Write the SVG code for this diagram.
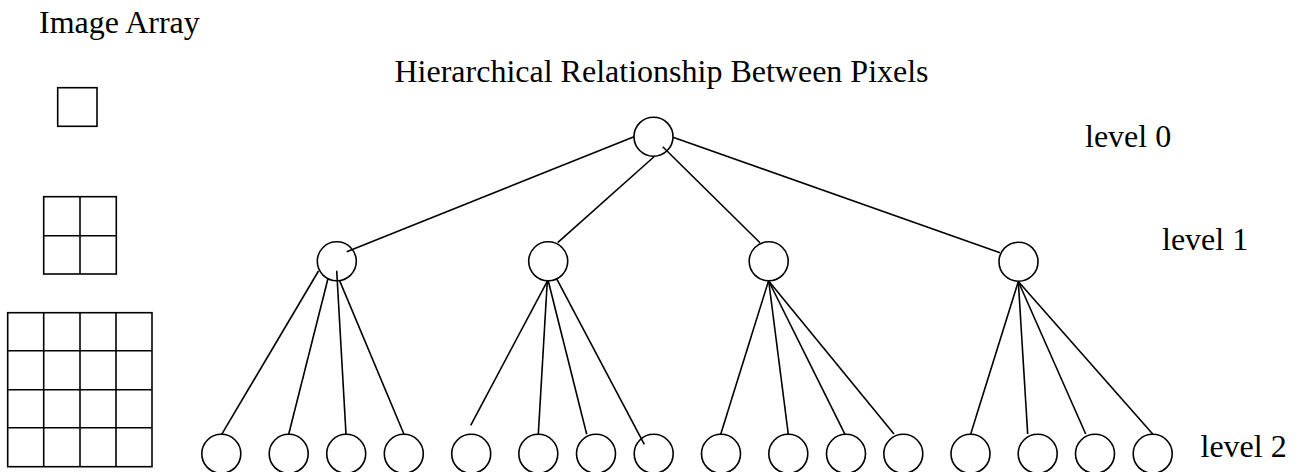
<svg xmlns="http://www.w3.org/2000/svg" width="1303" height="472" viewBox="0 0 1303 472">
<style>
  .t { font-family: "Liberation Serif", "Times New Roman", serif; font-size: 32px; fill: #000; }
  .g { fill: none; stroke: #000; stroke-width: 1.6; }
  .n { fill: none; stroke: #000; stroke-width: 1.6; }
  .c line { stroke: #000; stroke-width: 1.6; stroke-linecap: butt; }
</style>
<rect width="1303" height="472" fill="#fff"/>

<g id="labels">
  <text class="t" x="39" y="33.3">Image Array</text>
  <text class="t" x="394.5" y="81.5">Hierarchical Relationship Between Pixels</text>
  <text class="t" x="1085" y="146.7">level 0</text>
  <text class="t" x="1162" y="250">level 1</text>
  <text class="t" x="1200.5" y="456.7">level 2</text>
</g>

<g id="image-array">
  <g id="array-1x1">
    <rect class="g" x="57.7" y="87.7" width="39.3" height="38.6"/>
  </g>
  <g id="array-2x2">
    <rect class="g" x="43.7" y="196.7" width="72.6" height="77.3"/>
    <line class="g" x1="80" y1="196.7" x2="80" y2="274"/>
    <line class="g" x1="43.7" y1="235.7" x2="116.3" y2="235.7"/>
  </g>
  <g id="array-4x4">
    <rect class="g" x="7.7" y="312.7" width="144.3" height="154"/>
    <line class="g" x1="43.7" y1="312.7" x2="43.7" y2="466.7"/>
    <line class="g" x1="80" y1="312.7" x2="80" y2="466.7"/>
    <line class="g" x1="116" y1="312.7" x2="116" y2="466.7"/>
    <line class="g" x1="7.7" y1="350.7" x2="152" y2="350.7"/>
    <line class="g" x1="7.7" y1="389.7" x2="152" y2="389.7"/>
    <line class="g" x1="7.7" y1="427.7" x2="152" y2="427.7"/>
  </g>
</g>

<g id="connectors" class="c">
  <line x1="634" y1="136.7" x2="346.7" y2="251.7"/>
  <line x1="654.3" y1="156.5" x2="557.7" y2="242.7"/>
  <line x1="662.7" y1="146.7" x2="760" y2="242.7"/>
  <line x1="673" y1="137.3" x2="1000" y2="252.7"/>

  <line x1="318.5" y1="271" x2="221.7" y2="434.3"/>
  <line x1="328" y1="278.5" x2="288.7" y2="434.3"/>
  <line x1="336.7" y1="270.7" x2="346" y2="434.3"/>
  <line x1="339.6" y1="280.6" x2="404" y2="434.3"/>

  <line x1="547.5" y1="280.8" x2="470.7" y2="425.3"/>
  <line x1="547.3" y1="280.8" x2="538.3" y2="434.3"/>
  <line x1="548.2" y1="280.8" x2="586.7" y2="434.3"/>
  <line x1="556.7" y1="278.8" x2="644.3" y2="444.3"/>

  <line x1="768.5" y1="281" x2="720.7" y2="434.3"/>
  <line x1="768.7" y1="281" x2="788.3" y2="434.3"/>
  <line x1="768.7" y1="281" x2="845" y2="434.3"/>
  <line x1="768.7" y1="281" x2="894" y2="434"/>

  <line x1="1018.3" y1="281.5" x2="970.7" y2="434"/>
  <line x1="1018.3" y1="281.5" x2="1027.7" y2="434"/>
  <line x1="1018.3" y1="281.5" x2="1085.7" y2="434"/>
  <line x1="1018.3" y1="281.5" x2="1152.7" y2="434"/>
</g>

<g id="root"><circle class="n" cx="653.5" cy="136.7" r="19.5"/></g>

<g id="l1-1"><circle class="n" cx="336.8" cy="261.3" r="19.5"/></g>
<g id="l1-2"><circle class="n" cx="548.2" cy="261.3" r="19.5"/></g>
<g id="l1-3"><circle class="n" cx="768.7" cy="261.3" r="19.5"/></g>
<g id="l1-4"><circle class="n" cx="1018.5" cy="261.7" r="19.5"/></g>

<g id="l2-1"><circle class="n" cx="221.3" cy="453.8" r="19.5"/></g>
<g id="l2-2"><circle class="n" cx="288.7" cy="453.8" r="19.5"/></g>
<g id="l2-3"><circle class="n" cx="346.2" cy="453.8" r="19.5"/></g>
<g id="l2-4"><circle class="n" cx="403.8" cy="453.8" r="19.5"/></g>
<g id="l2-5"><circle class="n" cx="471.2" cy="453.8" r="19.5"/></g>
<g id="l2-6"><circle class="n" cx="538.3" cy="453.8" r="19.5"/></g>
<g id="l2-7"><circle class="n" cx="596" cy="453.8" r="19.5"/></g>
<g id="l2-8"><circle class="n" cx="653.7" cy="453.8" r="19.5"/></g>
<g id="l2-9"><circle class="n" cx="721" cy="453.8" r="19.5"/></g>
<g id="l2-10"><circle class="n" cx="788.3" cy="453.8" r="19.5"/></g>
<g id="l2-11"><circle class="n" cx="846" cy="453.8" r="19.5"/></g>
<g id="l2-12"><circle class="n" cx="903.3" cy="453.8" r="19.5"/></g>
<g id="l2-13"><circle class="n" cx="970.5" cy="453.8" r="19.5"/></g>
<g id="l2-14"><circle class="n" cx="1037.7" cy="453.8" r="19.5"/></g>
<g id="l2-15"><circle class="n" cx="1095" cy="453.8" r="19.5"/></g>
<g id="l2-16"><circle class="n" cx="1152.7" cy="453.8" r="19.5"/></g>
</svg>
